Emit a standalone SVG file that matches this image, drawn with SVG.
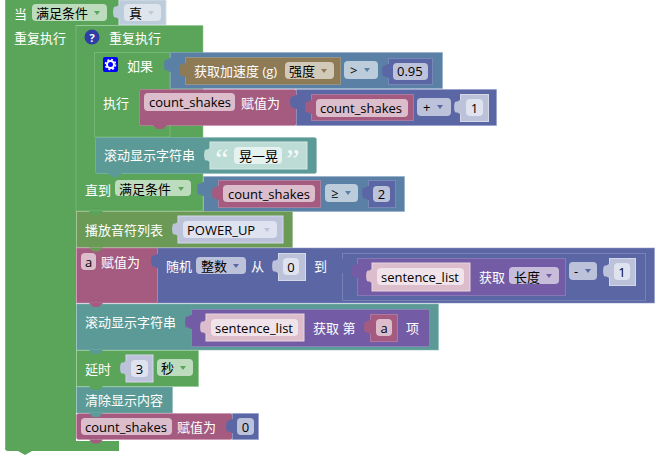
<svg xmlns="http://www.w3.org/2000/svg" xmlns:xlink="http://www.w3.org/1999/xlink" width="658" height="459" viewBox="0 0 658 459">
<style>
text{font-family:"Open Sans","Noto Sans CJK SC","Noto Sans",sans-serif;font-size:13px;fill:#fff}
text.d{fill:#000}
text.m{text-anchor:middle}
text.q{font-size:30px;font-family:"Liberation Serif",serif;text-anchor:middle;fill:#f4faf8}
.b{stroke-width:1;stroke-opacity:.55}
.gr{fill:#5ba55b;stroke:#8cc68c}
.sd{fill:#6b9a56;stroke:#97b989}
.te{fill:#5b9a96;stroke:#8cbcb9}
.pk{fill:#a55b80;stroke:#c88fab}
.in{fill:#5b67a5;stroke:#8f98c6}
.lg{fill:#5b80a5;stroke:#8fabc6}
.pu{fill:#745ba5;stroke:#a08cc6}
.br{fill:#8e7a55;stroke:#b5a687}
.sh-in{fill:#bdc2db;stroke:#d5d8e8}
.sh-pk{fill:#dbbdcc;stroke:#e8d5df}
.sh-te{fill:#bddcd6;stroke:#d5e8e4}
.sh-lg{fill:#bdccdb;stroke:#d5dfe8}
.f-gr{fill:#bddbbd}.f-in{fill:#bdc2db}.f-br{fill:#d2cab8}.f-lg{fill:#bdccdb}.f-pu{fill:#c7bddb}
.f-pk{fill:#dbbdcc}.f-lt{fill:#dfe2ef}.f-ltp{fill:#f0e3ea}.f-ltt{fill:#e6f2ef}.f-ltb{fill:#dee5ed}
</style>
<defs>
<path id="tab" d="M1 0C-2 0-1 2-4 1.500C-6.500 1-6.500 13-4 12.500C-1 12-2 14 1 14Z"/>
<path id="bump" d="M-7 0L-3 4H3L7 0Z"/>
<path id="arr" d="M-3 -2H3L0 2Z"/>
</defs>

<g id="forever-loop">
<path d="M5 0H119V25H76V441H119V451H32L25 455L18 451H8Q5 451 5 448Z" fill="#5ba55b"/>
<path d="M5.500 0V448" stroke="#8cc68c" stroke-opacity=".6" fill="none"/>
<text x="14" y="19">当</text>
<rect x="32" y="4" width="75" height="17" rx="4" class="f-gr"/>
<text x="36" y="18" class="d">满足条件</text>
<use href="#arr" x="97" y="13" fill="#5ba55b"/>
<rect x="119" y="0" width="47" height="25" class="sh-lg"/>
<use href="#tab" x="119" y="5" fill="#bdccdb"/>
<rect x="124" y="4" width="37" height="17" rx="4" class="f-ltb"/>
<text x="129" y="18" class="d">真</text>
<use href="#arr" x="151" y="13" fill="#bdccdb"/>
<text x="14" y="43">重复执行</text>
</g>

<g id="repeat-until">
<path d="M76 25.500H203V176H203V211H76Z" class="b gr"/>
<circle cx="92" cy="37" r="7.500" fill="#2d3ea5"/>
<text x="92" y="42" class="m" style="font-size:11px;font-weight:700">?</text>
<text x="109" y="43">重复执行</text>
<text x="85" y="195">直到</text>
<rect x="115" y="180" width="76" height="16" rx="4" class="f-gr"/>
<text x="119" y="194" class="d">满足条件</text>
<use href="#arr" x="181" y="189" fill="#5ba55b"/>
</g>

<g id="if-block">
<path d="M94.500 52.500H170V127H170V137H94.500Z" class="b gr"/>
<rect x="103" y="57" width="15" height="15" rx="2" fill="#0000ff"/>
<circle cx="110.500" cy="64.500" r="3.500" fill="none" stroke="#fff" stroke-width="2"/>
<circle cx="110.500" cy="64.500" r="5" fill="none" stroke="#fff" stroke-width="1.500" stroke-dasharray="2 1.930"/>
<text x="127" y="71">如果</text>
<text x="103" y="108">执行</text>
</g>

<g id="compare-accel">
<rect x="170.500" y="52.500" width="272" height="36" class="b lg"/>
<use href="#tab" x="170" y="58" fill="#5b80a5"/>
<rect x="185.500" y="57.500" width="155" height="27" class="b br"/>
<use href="#tab" x="185" y="63" fill="#8e7a55"/>
<text x="194" y="76">获取加速度 (g)</text>
<rect x="285" y="62" width="49" height="17" rx="4" class="f-br"/>
<text x="289" y="76" class="d">强度</text>
<use href="#arr" x="324" y="71" fill="#8e7a55"/>
<rect x="344" y="61" width="34" height="18" rx="4" class="f-lg"/>
<text x="350" y="75" class="d">&gt;</text>
<use href="#arr" x="367" y="70" fill="#5b80a5"/>
<rect x="388.500" y="58.500" width="44" height="26" class="b in"/>
<use href="#tab" x="388" y="64" fill="#5b67a5"/>
<rect x="393" y="63" width="35" height="17" rx="4" class="f-in"/>
<text x="397" y="76" class="d">0.95</text>
</g>

<g id="assign-count">
<rect x="139.500" y="89.500" width="157" height="36" rx="2" class="b pk"/>
<rect x="144" y="93" width="91" height="18" rx="4" class="f-pk"/>
<text x="149" y="107" class="d">count_shakes</text>
<text x="241" y="108">赋值为</text>
<rect x="296.500" y="89.500" width="200" height="36" class="b in"/>
<use href="#tab" x="296" y="95" fill="#5b67a5"/>
<rect x="311.500" y="94.500" width="102" height="26" class="b pk"/>
<use href="#tab" x="311" y="100" fill="#a55b80"/>
<rect x="316" y="99" width="92" height="18" rx="4" class="f-pk"/>
<text x="320" y="113" class="d">count_shakes</text>
<rect x="417" y="98" width="34" height="18" rx="4" class="f-in"/>
<text x="423" y="112" class="d">+</text>
<use href="#arr" x="440" y="107" fill="#5b67a5"/>
<rect x="460.500" y="94.500" width="28" height="27" class="sh-in"/>
<use href="#tab" x="460" y="100" fill="#bdc2db"/>
<rect x="466" y="99" width="17" height="17" rx="4" class="f-lt"/>
<text x="474.500" y="113" class="d m">1</text>
<use href="#bump" x="160" y="125" fill="#a55b80"/>
</g>

<g id="scroll-shake">
<rect x="95.500" y="137.500" width="221" height="36" rx="2" class="b te"/>
<text x="104" y="160">滚动显示字符串</text>
<rect x="210" y="142" width="97" height="27" class="sh-te"/>
<use href="#tab" x="210" y="148" fill="#bddcd6"/>
<text x="222" y="169" class="q">“</text>
<rect x="234" y="147" width="48" height="17" rx="4" class="f-ltt"/>
<text x="239" y="161" class="d">晃一晃</text>
<text x="293" y="169" class="q">”</text>
<use href="#bump" x="115" y="173" fill="#5b9a96"/>
</g>

<g id="compare-count">
<rect x="203.500" y="176.500" width="201" height="35" class="b lg"/>
<use href="#tab" x="203" y="182" fill="#5b80a5"/>
<rect x="218.500" y="180.500" width="102" height="27" class="b pk"/>
<use href="#tab" x="218" y="186" fill="#a55b80"/>
<rect x="223" y="185" width="92" height="17" rx="4" class="f-pk"/>
<text x="228" y="199" class="d">count_shakes</text>
<rect x="325" y="184" width="33" height="18" rx="4" class="f-lg"/>
<text x="331" y="198" class="d">≥</text>
<use href="#arr" x="348" y="193" fill="#5b80a5"/>
<rect x="368.500" y="180.500" width="27" height="27" class="b in"/>
<use href="#tab" x="368" y="186" fill="#5b67a5"/>
<rect x="373" y="186" width="17" height="16" rx="4" class="f-in"/>
<text x="381.500" y="199" class="d m">2</text>
</g>

<g id="play-melody">
<rect x="76.500" y="211.500" width="216" height="36" class="b sd"/>
<use href="#bump" x="96" y="211" fill="#5ba55b"/>
<text x="85" y="235">播放音符列表</text>
<rect x="178" y="216" width="105" height="27" class="sh-in"/>
<use href="#tab" x="178" y="222" fill="#bdc2db"/>
<rect x="183" y="221" width="94" height="17" rx="4" class="f-lt"/>
<text x="187" y="235" class="d">POWER_UP</text>
<use href="#arr" x="267" y="230" fill="#bdc2db"/>
</g>

<g id="assign-a">
<rect x="76.500" y="248" width="81" height="55" class="b pk"/>
<use href="#bump" x="96" y="247.500" fill="#6b9a56"/>
<rect x="81" y="253" width="15" height="17" rx="4" class="f-pk"/>
<text x="88.500" y="267" class="d m">a</text>
<text x="101" y="267">赋值为</text>
<rect x="157.500" y="248" width="497" height="55" class="b in"/>
<use href="#tab" x="157" y="254" fill="#5b67a5"/>
<text x="166" y="271">随机</text>
<rect x="196" y="257" width="50" height="17" rx="4" class="f-in"/>
<text x="201" y="271" class="d">整数</text>
<use href="#arr" x="236" y="266" fill="#5b67a5"/>
<text x="251" y="271">从</text>
<rect x="278.500" y="253.500" width="27" height="27" class="sh-in"/>
<use href="#tab" x="278" y="259" fill="#bdc2db"/>
<rect x="283" y="258" width="16" height="17" rx="4" class="f-lt"/>
<text x="291" y="272" class="d m">0</text>
<text x="314" y="271">到</text>
<rect x="342.500" y="253.500" width="303" height="47" class="b in"/>
<use href="#tab" x="342" y="259" fill="#5b67a5"/>
<rect x="357.500" y="258.500" width="208" height="37" class="b pu"/>
<use href="#tab" x="357" y="264" fill="#745ba5"/>
<rect x="372" y="263" width="98" height="28" class="sh-pk"/>
<use href="#tab" x="372" y="269" fill="#dbbdcc"/>
<rect x="377" y="268" width="87" height="17" rx="4" class="f-ltp"/>
<text x="381" y="282" class="d">sentence_list</text>
<text x="479" y="282">获取</text>
<rect x="509" y="267" width="50" height="17" rx="4" class="f-pu"/>
<text x="514" y="282" class="d">长度</text>
<use href="#arr" x="549" y="276" fill="#745ba5"/>
<rect x="569" y="262" width="28" height="18" rx="4" class="f-in"/>
<text x="574" y="276" class="d">-</text>
<use href="#arr" x="588" y="271" fill="#5b67a5"/>
<rect x="609.500" y="258.500" width="26" height="27" class="sh-in"/>
<use href="#tab" x="609" y="264" fill="#bdc2db"/>
<rect x="614" y="263" width="16" height="17" rx="4" class="f-lt"/>
<text x="622" y="277" class="d m">1</text>
</g>

<g id="scroll-item">
<rect x="76.500" y="304" width="362" height="46" class="b te"/>
<use href="#bump" x="96" y="303" fill="#a55b80"/>
<text x="85" y="327">滚动显示字符串</text>
<rect x="191.500" y="309.500" width="238" height="37" class="b pu"/>
<use href="#tab" x="191" y="315" fill="#745ba5"/>
<rect x="206" y="314" width="98" height="27" class="sh-pk"/>
<use href="#tab" x="206" y="320" fill="#dbbdcc"/>
<rect x="211" y="319" width="87" height="17" rx="4" class="f-ltp"/>
<text x="215" y="333" class="d">sentence_list</text>
<text x="313" y="333">获取 第</text>
<rect x="370.500" y="314.500" width="27" height="27" class="b pk"/>
<use href="#tab" x="370" y="320" fill="#a55b80"/>
<rect x="376" y="319" width="16" height="17" rx="4" class="f-pk"/>
<text x="384" y="333" class="d m">a</text>
<text x="406" y="333">项</text>
</g>

<g id="delay">
<rect x="76.500" y="350.500" width="122" height="36" class="b gr"/>
<use href="#bump" x="96" y="350" fill="#5b9a96"/>
<text x="85" y="374">延时</text>
<rect x="126" y="355" width="27" height="27" class="sh-in"/>
<use href="#tab" x="126" y="361" fill="#bdc2db"/>
<rect x="131" y="360" width="17" height="17" rx="4" class="f-lt"/>
<text x="139.500" y="374" class="d m">3</text>
<rect x="157" y="359" width="36" height="17" rx="4" class="f-gr"/>
<text x="161" y="373" class="d">秒</text>
<use href="#arr" x="183" y="368" fill="#5ba55b"/>
</g>

<g id="clear-display">
<rect x="76.500" y="387" width="96" height="26" class="b te"/>
<use href="#bump" x="96" y="386" fill="#5ba55b"/>
<text x="85" y="405">清除显示内容</text>
</g>

<g id="reset-count">
<rect x="76.500" y="413.500" width="156" height="26" rx="2" class="b pk"/>
<use href="#bump" x="96" y="413" fill="#5b9a96"/>
<rect x="81" y="418" width="91" height="17" rx="4" class="f-pk"/>
<text x="85" y="432" class="d">count_shakes</text>
<text x="177" y="432">赋值为</text>
<rect x="232.500" y="413.500" width="26" height="26" class="b in"/>
<use href="#tab" x="232" y="419" fill="#5b67a5"/>
<rect x="237" y="418" width="17" height="17" rx="4" class="f-in"/>
<text x="245.500" y="432" class="d m">0</text>
<use href="#bump" x="96" y="439.500" fill="#a55b80"/>
</g>
</svg>
